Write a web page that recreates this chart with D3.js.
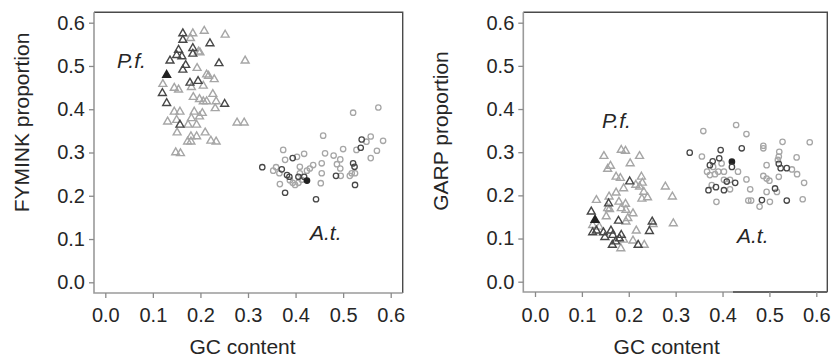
<!DOCTYPE html>
<html>
<head>
<meta charset="utf-8">
<script src="https://cdn.jsdelivr.net/npm/d3@7"></script>
<style>
  body { margin: 0; background: #fff; }
  svg { display: block; font-family: "Liberation Sans", Arial, sans-serif; }
</style>
</head>
<body>
<div id="chart"></div>
<script>
// tick values shared by both panels
const tickValues = [0, 0.1, 0.2, 0.3, 0.4, 0.5, 0.6];

// [GC content, proportion, tone]  tone: l = light, d = dark, f = filled
const pfFymink = [
  [0.163, 0.575, 'd'], [0.184, 0.575, 'l'], [0.208, 0.581, 'l'], [0.252, 0.572, 'l'],
  [0.163, 0.560, 'd'], [0.179, 0.564, 'l'], [0.220, 0.552, 'd'], [0.154, 0.537, 'd'],
  [0.184, 0.541, 'd'], [0.196, 0.533, 'l'], [0.150, 0.525, 'd'], [0.161, 0.522, 'd'],
  [0.184, 0.528, 'd'], [0.136, 0.512, 'd'], [0.239, 0.506, 'd'], [0.294, 0.512, 'l'],
  [0.169, 0.502, 'd'], [0.163, 0.491, 'd'], [0.193, 0.495, 'l'], [0.129, 0.479, 'f'],
  [0.217, 0.477, 'l'], [0.229, 0.469, 'l'], [0.121, 0.458, 'l'], [0.178, 0.461, 'd'],
  [0.195, 0.465, 'd'], [0.181, 0.451, 'l'], [0.206, 0.454, 'l'], [0.145, 0.449, 'l'],
  [0.154, 0.445, 'l'], [0.120, 0.437, 'd'], [0.226, 0.435, 'l'], [0.185, 0.428, 'l'],
  [0.198, 0.423, 'l'], [0.206, 0.418, 'l'], [0.213, 0.418, 'l'], [0.233, 0.418, 'l'],
  [0.129, 0.414, 'd'], [0.251, 0.412, 'd'], [0.231, 0.402, 'l'], [0.145, 0.394, 'l'],
  [0.157, 0.394, 'l'], [0.187, 0.394, 'l'], [0.204, 0.391, 'l'], [0.198, 0.383, 'l'],
  [0.131, 0.371, 'l'], [0.150, 0.375, 'l'], [0.181, 0.379, 'l'], [0.157, 0.364, 'd'],
  [0.174, 0.364, 'l'], [0.192, 0.364, 'l'], [0.277, 0.369, 'l'], [0.292, 0.369, 'l'],
  [0.151, 0.346, 'l'], [0.210, 0.346, 'l'], [0.180, 0.337, 'l'], [0.192, 0.337, 'l'],
  [0.173, 0.325, 'l'], [0.180, 0.325, 'l'], [0.222, 0.327, 'l'], [0.233, 0.325, 'l'],
  [0.148, 0.300, 'l'], [0.158, 0.298, 'l'], [0.199, 0.531, 'l'], [0.213, 0.480, 'l']
];

const atFymink = [
  [0.574, 0.404, 'l'], [0.521, 0.392, 'l'], [0.458, 0.339, 'l'], [0.539, 0.330, 'd'],
  [0.558, 0.337, 'l'], [0.584, 0.327, 'l'], [0.549, 0.325, 'l'], [0.537, 0.311, 'd'],
  [0.500, 0.308, 'l'], [0.528, 0.306, 'l'], [0.571, 0.304, 'l'], [0.374, 0.306, 'l'],
  [0.462, 0.298, 'l'], [0.418, 0.297, 'l'], [0.480, 0.293, 'l'], [0.394, 0.287, 'd'],
  [0.494, 0.284, 'l'], [0.558, 0.287, 'l'], [0.378, 0.283, 'l'], [0.403, 0.290, 'l'],
  [0.455, 0.275, 'l'], [0.437, 0.271, 'l'], [0.487, 0.273, 'l'], [0.521, 0.275, 'd'],
  [0.330, 0.266, 'd'], [0.359, 0.266, 'l'], [0.409, 0.267, 'l'], [0.430, 0.263, 'l'],
  [0.494, 0.263, 'l'], [0.524, 0.267, 'd'], [0.353, 0.258, 'l'], [0.371, 0.261, 'd'],
  [0.424, 0.258, 'l'], [0.366, 0.252, 'l'], [0.382, 0.248, 'd'], [0.455, 0.252, 'l'],
  [0.518, 0.252, 'l'], [0.525, 0.252, 'l'], [0.387, 0.244, 'd'], [0.406, 0.244, 'd'],
  [0.418, 0.244, 'd'], [0.413, 0.237, 'l'], [0.424, 0.235, 'f'], [0.485, 0.246, 'd'],
  [0.495, 0.246, 'l'], [0.514, 0.246, 'l'], [0.394, 0.230, 'l'], [0.399, 0.225, 'l'],
  [0.406, 0.230, 'l'], [0.367, 0.227, 'l'], [0.453, 0.229, 'l'], [0.525, 0.225, 'd'],
  [0.378, 0.207, 'd'], [0.443, 0.192, 'd'], [0.388, 0.236, 'l'], [0.409, 0.252, 'l']
];

const pfGarp = [
  [0.184, 0.305, 'l'], [0.193, 0.303, 'l'], [0.147, 0.291, 'l'], [0.223, 0.291, 'l'],
  [0.203, 0.274, 'l'], [0.161, 0.268, 'l'], [0.155, 0.261, 'l'], [0.173, 0.243, 'l'],
  [0.182, 0.240, 'l'], [0.227, 0.243, 'l'], [0.202, 0.232, 'd'], [0.229, 0.229, 'l'],
  [0.278, 0.220, 'l'], [0.189, 0.216, 'l'], [0.215, 0.224, 'l'], [0.223, 0.220, 'l'],
  [0.173, 0.206, 'l'], [0.232, 0.208, 'l'], [0.240, 0.195, 'l'], [0.293, 0.197, 'l'],
  [0.131, 0.189, 'l'], [0.158, 0.197, 'l'], [0.228, 0.192, 'l'], [0.155, 0.170, 'l'],
  [0.157, 0.181, 'd'], [0.179, 0.185, 'l'], [0.193, 0.180, 'l'], [0.184, 0.170, 'l'],
  [0.194, 0.166, 'l'], [0.159, 0.168, 'l'], [0.120, 0.162, 'd'], [0.209, 0.158, 'l'],
  [0.152, 0.151, 'l'], [0.198, 0.147, 'l'], [0.128, 0.143, 'f'], [0.178, 0.141, 'd'],
  [0.194, 0.139, 'l'], [0.250, 0.139, 'd'], [0.295, 0.135, 'l'], [0.123, 0.131, 'l'],
  [0.137, 0.127, 'l'], [0.131, 0.118, 'd'], [0.146, 0.114, 'd'], [0.162, 0.118, 'd'],
  [0.216, 0.118, 'l'], [0.244, 0.117, 'd'], [0.149, 0.103, 'd'], [0.166, 0.108, 'd'],
  [0.180, 0.100, 'd'], [0.184, 0.108, 'd'], [0.172, 0.093, 'd'], [0.209, 0.095, 'l'],
  [0.165, 0.085, 'd'], [0.220, 0.085, 'd'], [0.233, 0.085, 'l'], [0.183, 0.077, 'l'],
  [0.189, 0.097, 'l'], [0.123, 0.114, 'd'], [0.252, 0.133, 'l']
];

const atGarp = [
  [0.429, 0.363, 'l'], [0.359, 0.349, 'l'], [0.451, 0.342, 'l'], [0.528, 0.324, 'l'],
  [0.586, 0.323, 'l'], [0.487, 0.315, 'l'], [0.487, 0.309, 'l'], [0.441, 0.309, 'd'],
  [0.330, 0.299, 'd'], [0.396, 0.305, 'd'], [0.521, 0.301, 'l'], [0.356, 0.290, 'l'],
  [0.393, 0.286, 'd'], [0.520, 0.290, 'l'], [0.558, 0.288, 'l'], [0.379, 0.279, 'd'],
  [0.420, 0.278, 'f'], [0.518, 0.282, 'l'], [0.373, 0.270, 'd'], [0.380, 0.266, 'l'],
  [0.494, 0.270, 'l'], [0.520, 0.273, 'd'], [0.398, 0.274, 'l'], [0.420, 0.266, 'd'],
  [0.537, 0.263, 'd'], [0.524, 0.263, 'd'], [0.548, 0.260, 'l'], [0.367, 0.255, 'l'],
  [0.391, 0.255, 'l'], [0.403, 0.255, 'l'], [0.433, 0.255, 'l'], [0.559, 0.249, 'l'],
  [0.373, 0.247, 'l'], [0.384, 0.249, 'l'], [0.487, 0.245, 'l'], [0.520, 0.243, 'l'],
  [0.451, 0.237, 'l'], [0.494, 0.239, 'l'], [0.403, 0.236, 'l'], [0.416, 0.236, 'l'],
  [0.500, 0.234, 'l'], [0.409, 0.232, 'd'], [0.427, 0.229, 'd'], [0.574, 0.229, 'l'],
  [0.377, 0.224, 'l'], [0.386, 0.219, 'd'], [0.370, 0.212, 'd'], [0.403, 0.212, 'd'],
  [0.416, 0.214, 'l'], [0.459, 0.214, 'l'], [0.512, 0.216, 'd'], [0.516, 0.208, 'l'],
  [0.494, 0.208, 'l'], [0.571, 0.191, 'l'], [0.484, 0.189, 'd'], [0.537, 0.188, 'd'],
  [0.455, 0.188, 'l'], [0.461, 0.188, 'l'], [0.387, 0.185, 'l'], [0.501, 0.185, 'l'],
  [0.479, 0.174, 'l']
];

const panels = [
  {
    yLabel: 'FYMINK proportion', tri: pfFymink, circ: atFymink,
    box: { left: 94, top: 12.3, right: 402.7, bottom: 293 },
    xRange: [105.3, 390.7], yRange: [282.3, 22.7],
    yLabelPos: [28.5, 122.5], xLabelPos: [242.5, 354],
    pf: [117, 68], at: [310, 240], xPad: 10, darkBottomFrom: null
  },
  {
    yLabel: 'GARP proportion', tri: pfGarp, circ: atGarp,
    box: { left: 523.3, top: 12.3, right: 827.3, bottom: 292 },
    xRange: [535, 816.3], yRange: [281.7, 22.7],
    yLabelPos: [448, 131], xLabelPos: [666.7, 354],
    pf: [602, 128], at: [737, 243], xPad: 11, darkBottomFrom: 733
  }
];

const toneColor = { l: '#a6a6a6', d: '#474747', f: '#222' };

const svg = d3.select('#chart')
  .append('svg')
  .attr('width', 838)
  .attr('height', 357);

panels.forEach(p => {
  const x = d3.scaleLinear().domain([0, 0.6]).range(p.xRange);
  const y = d3.scaleLinear().domain([0, 0.6]).range(p.yRange);
  const g = svg.append('g');
  const b = p.box;

  // frame: light left/bottom, darker top/right
  g.append('path')
    .attr('d', `M${b.left},${b.top}H${b.right}V${b.bottom}`)
    .attr('fill', 'none').attr('stroke', '#4a4a4a').attr('stroke-width', 1.4);
  g.append('path')
    .attr('d', `M${b.left},${b.top}V${b.bottom}H${b.right}`)
    .attr('fill', 'none').attr('stroke', '#9a9a9a').attr('stroke-width', 1.6);
  if (p.darkBottomFrom) {
    g.append('path')
      .attr('d', `M${p.darkBottomFrom},${b.bottom}H${b.right}`)
      .attr('stroke', '#4a4a4a').attr('stroke-width', 1.6);
  }

  // axes
  const yAxis = g.append('g')
    .attr('transform', `translate(${b.left},0)`)
    .call(d3.axisLeft(y).tickValues(tickValues).tickFormat(d3.format('.1f'))
      .tickSize(5).tickPadding(4));
  const xAxis = g.append('g')
    .attr('transform', `translate(0,${b.bottom})`)
    .call(d3.axisBottom(x).tickValues(tickValues).tickFormat(d3.format('.1f'))
      .tickSize(5).tickPadding(p.xPad));
  [xAxis, yAxis].forEach(a => {
    a.select('.domain').remove();
    a.selectAll('line').attr('stroke', '#8a8a8a').attr('stroke-width', 1.3);
    a.selectAll('text').attr('fill', '#262626').style('font-size', '20px');
  });

  // axis titles
  g.append('text')
    .attr('x', p.xLabelPos[0]).attr('y', p.xLabelPos[1])
    .attr('text-anchor', 'middle').attr('fill', '#262626')
    .style('font-size', '21px')
    .text('GC content');
  g.append('text')
    .attr('transform', `translate(${p.yLabelPos[0]},${p.yLabelPos[1]}) rotate(-90)`)
    .attr('text-anchor', 'middle').attr('fill', '#262626')
    .style('font-size', '21px')
    .text(p.yLabel);

  // species labels
  g.append('text').attr('x', p.pf[0]).attr('y', p.pf[1])
    .style('font-size', '21px').style('font-style', 'italic').attr('fill', '#262626')
    .text('P.f.');
  g.append('text').attr('x', p.at[0]).attr('y', p.at[1])
    .style('font-size', '21px').style('font-style', 'italic').attr('fill', '#262626')
    .text('A.t.');

  // light markers first so dark ones sit on top
  const order = d => (d[2] === 'l' ? 0 : 1);
  const tri = d3.symbol().type(d3.symbolTriangle).size(27);

  g.append('g').selectAll('path')
    .data(p.tri.slice().sort((a, c) => order(a) - order(c)))
    .join('path')
    .attr('d', tri)
    .attr('transform', d => `translate(${x(d[0])},${y(d[1])})`)
    .attr('fill', d => (d[2] === 'f' ? toneColor.f : 'none'))
    .attr('stroke', d => toneColor[d[2]])
    .attr('stroke-width', 1.4);

  g.append('g').selectAll('circle')
    .data(p.circ.slice().sort((a, c) => order(a) - order(c)))
    .join('circle')
    .attr('cx', d => x(d[0]))
    .attr('cy', d => y(d[1]))
    .attr('r', 2.7)
    .attr('fill', d => (d[2] === 'f' ? toneColor.f : 'none'))
    .attr('stroke', d => toneColor[d[2]])
    .attr('stroke-width', 1.3);
});
</script>
</body>
</html>
